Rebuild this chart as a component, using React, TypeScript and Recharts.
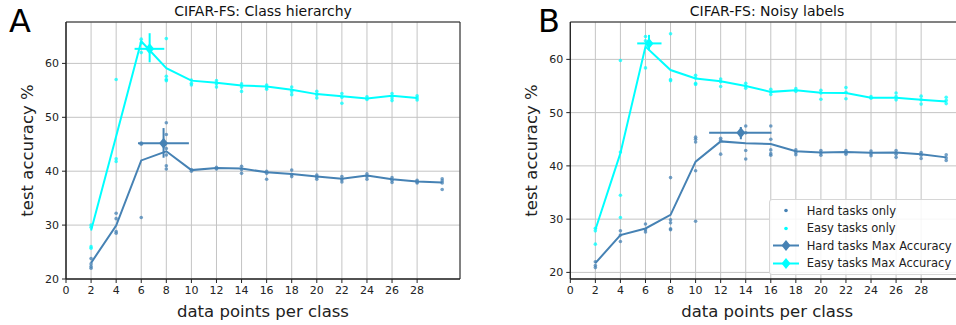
import React from "react";
import {
  ComposedChart,
  Line,
  Scatter,
  ErrorBar,
  XAxis,
  YAxis,
  CartesianGrid,
  ReferenceArea,
  Legend,
} from "recharts";

const xs = [2, 4, 6, 8, 10, 12, 14, 16, 18, 20, 22, 24, 26, 28, 30];
const xTicks = [0, 2, 4, 6, 8, 10, 12, 14, 16, 18, 20, 22, 24, 26, 28];
const yTicks = [20, 30, 40, 50, 60];

// Panel A: class hierarchy
const easyMeanA = [29.0, 46.5, 64.1, 59.1, 56.8, 56.4, 55.9, 55.7, 55.1, 54.3, 53.9, 53.5, 54.0, 53.6];
const hardMeanA = [23.0, 29.9, 42.0, 43.7, 40.2, 40.6, 40.5, 39.8, 39.5, 39.0, 38.6, 39.2, 38.5, 38.1, 37.9];
const easyPtsA = [
  [30.0, 29.6, 26.0, 25.7], [57.0, 42.3, 41.8], [64.5, 63.8, 62.0], [64.6, 57.6, 57.0, 56.8],
  [56.9, 56.3, 56.0], [56.8, 56.2, 55.6], [56.2, 55.6, 54.8], [56.0, 55.5, 55.2],
  [55.6, 54.8, 54.2], [54.8, 54.2, 53.6], [54.4, 53.7, 52.6], [53.8, 53.3],
  [54.4, 53.6, 53.1], [54.0, 53.6, 53.2],
];
const hardPtsA = [
  [23.8, 22.8, 22.3, 22.0], [32.2, 31.2, 28.8, 28.5], [45.2, 45.0, 31.4],
  [49.0, 46.8, 44.2, 43.0, 41.0, 40.4], [40.3, 40.0], [40.7, 40.4], [40.9, 40.3, 39.6],
  [40.0, 39.6, 38.5], [40.2, 39.4, 39.0], [39.3, 38.9, 38.5], [39.0, 38.4, 38.0],
  [39.5, 39.0, 38.5], [38.8, 38.3, 37.9], [38.3, 38.0, 37.8], [38.6, 38.2, 37.8, 36.6],
];
const easyMaxA = [{ x: 6.67, y: 62.7, ex: [1.2, 1.17], ey: [2.5, 2.9] }];
const hardMaxA = [{ x: 7.78, y: 45.2, ex: [2.04, 2.02], ey: [2.7, 2.8] }];

// Panel B: noisy labels
const easyMeanB = [28.0, 42.4, 62.4, 58.0, 56.4, 55.9, 55.0, 53.9, 54.2, 53.75, 53.7, 52.8, 52.8, 52.4, 52.1];
const hardMeanB = [21.75, 27.0, 28.25, 30.8, 40.8, 44.6, 44.25, 44.1, 42.75, 42.5, 42.6, 42.45, 42.5, 42.2, 41.6];
const easyPtsB = [
  [28.3, 27.8, 25.3], [59.8, 42.6, 34.5, 30.3], [64.3, 63.5, 58.4], [64.8, 56.2, 56.0],
  [57.0, 56.5, 55.5, 55.3], [56.3, 55.8, 54.9], [55.5, 55.0, 54.6], [54.4, 53.9, 53.4],
  [54.5, 54.0], [54.2, 53.7, 52.5], [54.7, 53.8, 52.6], [53.0, 52.7],
  [53.7, 53.0, 52.4], [53.1, 52.4, 51.6], [52.9, 52.3, 51.7],
];
const hardPtsB = [
  [22.0, 21.3, 20.9], [27.8, 27.0, 25.8], [29.1, 28.0, 27.6], [37.8, 29.9, 29.3, 28.2, 28.0],
  [45.4, 45.0, 44.5, 39.1, 29.6], [45.2, 44.8, 42.2], [47.5, 46.2, 42.9, 41.3],
  [47.5, 45.0, 43.0, 42.3, 42.0], [43.0, 42.5, 42.1], [42.9, 42.4, 42.0], [42.9, 42.5, 42.2],
  [42.8, 42.3, 41.9], [42.9, 42.2, 41.6], [42.5, 42.0, 41.4], [42.1, 41.5, 41.0],
];
const easyMaxB = [{ x: 6.28, y: 63.0, ex: [0.94, 1.0], ey: [1.3, 1.6] }];
const hardMaxB = [{ x: 13.61, y: 46.2, ex: [2.53, 2.45], ey: [1.2, 1.1] }];

const HARD = "#4682b4";
const EASY = "#00ffff";
const FONT = "'DejaVu Sans', sans-serif";

const toLine = (vals: number[]) => vals.map((y, i) => ({ x: xs[i], y }));
const toPts = (groups: number[][]) =>
  groups.flatMap((g, i) => g.map((y) => ({ x: xs[i], y })));

const Dot = (color: string) => (p: any) =>
  <circle cx={p.cx} cy={p.cy} r={1.8} fill={color} fillOpacity={0.75} />;

const Diamond = (color: string) => (p: any) =>
  <path d={`M${p.cx},${p.cy - 5.5}L${p.cx + 4.5},${p.cy}L${p.cx},${p.cy + 5.5}L${p.cx - 4.5},${p.cy}Z`} fill={color} />;

const legendItems = [
  { label: "Hard tasks only", color: HARD, kind: "dot" },
  { label: "Easy tasks only", color: EASY, kind: "dot" },
  { label: "Hard tasks Max Accuracy", color: HARD, kind: "line" },
  { label: "Easy tasks Max Accuracy", color: EASY, kind: "line" },
];

const LegendBox = () => (
  <div
    style={{
      background: "rgba(255,255,255,0.85)",
      border: "1px solid #d6d6d6",
      borderRadius: 3,
      padding: "2px 0 2px 0",
      width: 200,
      fontFamily: FONT,
      fontSize: 11.5,
      color: "#222",
    }}
  >
    {legendItems.map((it) => (
      <div key={it.label} style={{ display: "flex", alignItems: "center", height: 17.5 }}>
        <svg width={37} height={17} style={{ flex: "none" }}>
          {it.kind === "dot" ? (
            <circle cx={16} cy={8.5} r={1.8} fill={it.color} />
          ) : (
            <g>
              <line x1={3} x2={29} y1={8.5} y2={8.5} stroke={it.color} strokeWidth={2} />
              <path d="M16,3L20.5,8.5L16,14L11.5,8.5Z" fill={it.color} />
            </g>
          )}
        </svg>
        <span style={{ whiteSpace: "nowrap" }}>{it.label}</span>
      </div>
    ))}
  </div>
);

interface PanelProps {
  width: number;
  yAxisWidth: number;
  rightMargin: number;
  yDomain: [number, number];
  easyMean: number[];
  hardMean: number[];
  easyPts: number[][];
  hardPts: number[][];
  easyMax: any[];
  hardMax: any[];
  showLegend?: boolean;
}

const Panel: React.FC<PanelProps> = ({
  width, yAxisWidth, rightMargin, yDomain,
  easyMean, hardMean, easyPts, hardPts, easyMax, hardMax, showLegend,
}) => {
  const tick = { fontSize: 11, fill: "#222", fontFamily: FONT };
  const xMax = 31.42;
  return (
    <ComposedChart width={width} height={325} margin={{ top: 22, right: rightMargin, bottom: 0, left: 0 }}>
      <CartesianGrid stroke="#c4c4c4" strokeWidth={1} />
      <XAxis
        type="number"
        dataKey="x"
        domain={[0, xMax]}
        ticks={xTicks}
        allowDataOverflow
        height={46}
        tickSize={4}
        tickMargin={3}
        tick={tick}
        stroke="#222"
        label={{ value: "data points per class", position: "insideBottom", offset: 8, fontSize: 16.5, fill: "#222", fontFamily: FONT }}
      />
      <YAxis
        type="number"
        dataKey="y"
        domain={yDomain}
        ticks={yTicks}
        allowDataOverflow
        width={yAxisWidth}
        tickSize={4}
        tickMargin={3}
        tick={tick}
        stroke="#222"
        label={{ value: "test accuracy %", angle: -90, position: "insideLeft", offset: yAxisWidth - 39, fontSize: 16.5, fill: "#222", fontFamily: FONT, style: { textAnchor: "middle" } }}
      />
      <ReferenceArea x1={0} x2={xMax} y1={yDomain[0]} y2={yDomain[1]} fill="none" stroke="#222" strokeWidth={1} />
      <Scatter data={toPts(hardPts)} shape={Dot(HARD)} isAnimationActive={false} />
      <Scatter data={toPts(easyPts)} shape={Dot(EASY)} isAnimationActive={false} />
      <Line data={toLine(hardMean)} dataKey="y" stroke={HARD} strokeWidth={2} dot={false} isAnimationActive={false} />
      <Line data={toLine(easyMean)} dataKey="y" stroke={EASY} strokeWidth={2} dot={false} isAnimationActive={false} />
      <Scatter data={hardMax} shape={Diamond(HARD)} isAnimationActive={false}>
        <ErrorBar dataKey="ex" direction="x" width={0} stroke={HARD} strokeWidth={2} />
        <ErrorBar dataKey="ey" direction="y" width={0} stroke={HARD} strokeWidth={2} />
      </Scatter>
      <Scatter data={easyMax} shape={Diamond(EASY)} isAnimationActive={false}>
        <ErrorBar dataKey="ex" direction="x" width={0} stroke={EASY} strokeWidth={2} />
        <ErrorBar dataKey="ey" direction="y" width={0} stroke={EASY} strokeWidth={2} />
      </Scatter>
      {showLegend && (
        <Legend
          layout="vertical"
          align="center"
          verticalAlign="middle"
          content={() => <LegendBox />}
          wrapperStyle={{ left: 290.7, top: 199, width: 200 }}
        />
      )}
    </ComposedChart>
  );
};

const titleStyle: React.CSSProperties = {
  position: "absolute",
  top: 2,
  fontSize: 14,
  lineHeight: "18px",
  textAlign: "center",
  color: "#111",
  fontFamily: FONT,
  width: 300,
};
const letterStyle: React.CSSProperties = {
  position: "absolute",
  top: 5,
  fontSize: 32,
  lineHeight: "32px",
  color: "#000",
  fontFamily: FONT,
};

export default function App() {
  return (
    <div style={{ position: "absolute", left: 0, top: 0, width: 956, height: 325, overflow: "hidden", background: "#fff", fontFamily: FONT }}>
      <div style={{ position: "absolute", left: 0, top: 0 }}>
        <Panel
          width={478}
          yAxisWidth={66}
          rightMargin={18}
          yDomain={[20, 67.68]}
          easyMean={easyMeanA}
          hardMean={hardMeanA}
          easyPts={easyPtsA}
          hardPts={hardPtsA}
          easyMax={easyMaxA}
          hardMax={hardMaxA}
        />
      </div>
      <div style={{ position: "absolute", left: 478, top: 0 }}>
        <Panel
          width={486}
          yAxisWidth={92.3}
          rightMargin={0}
          yDomain={[18.76, 67.02]}
          easyMean={easyMeanB}
          hardMean={hardMeanB}
          easyPts={easyPtsB}
          hardPts={hardPtsB}
          easyMax={easyMaxB}
          hardMax={hardMaxB}
          showLegend
        />
      </div>
      <div style={{ ...titleStyle, left: 263 - 150 }}>CIFAR-FS: Class hierarchy</div>
      <div style={{ ...titleStyle, left: 767 - 150 }}>CIFAR-FS: Noisy labels</div>
      <div style={{ ...letterStyle, left: 9 }}>A</div>
      <div style={{ ...letterStyle, left: 538 }}>B</div>
    </div>
  );
}
